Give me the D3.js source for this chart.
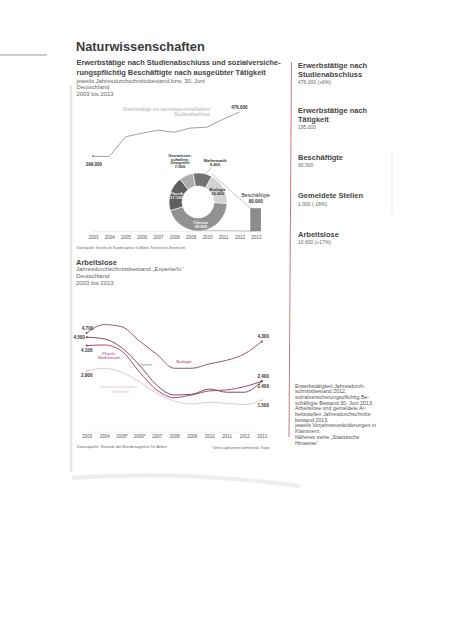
<!DOCTYPE html>
<html>
<head>
<meta charset="utf-8">
<script src="https://cdn.jsdelivr.net/npm/d3@7"></script>
<style>
  body { margin: 0; background: #fff; }
  svg { display: block; font-family: "Liberation Sans", Arial, sans-serif; }
</style>
</head>
<body>
<svg id="page" width="465" height="640"></svg>
<script>
// --- data -------------------------------------------------------------
const years = [2003, 2004, 2005, 2006, 2007, 2008, 2009, 2010, 2011, 2012, 2013];
const yearLabelsAl = ['2003', '2004', '2005*', '2006*', '2007', '2008', '2009', '2010', '2011', '2012', '2013'];

// Erwerbstätige mit naturwissenschaftlichem Studienabschluss (2003-2012)
const erwerbYears = [2003, 2004, 2005, 2006, 2007, 2008, 2009, 2010, 2011, 2012];
const erwerbValues = [299000, 298000, 377000, 391000, 403000, 395000, 412000, 415000, 447000, 476000];

// Beschäftigte 2013 nach Fach
const beschaeftigte = 90000;
const faecher = ['Mathematik', 'Biologie', 'Chemie', 'Physik', 'Geowissenschaften, Geografie'];
const faecherWerte = [9400, 16000, 39500, 17100, 7000];

// Arbeitslose
const alBiologie = [4700, 5100, 5000, 4330, 3690, 3020, 3020, 3230, 3400, 3700, 4300];
const alChemie   = [4500, 4420, 4000, 3180, 2220, 1750, 1780, 2030, 1880, 1880, 2400];
const alPhysik   = [4100, 4130, 3840, 2860, 1990, 1620, 1750, 1940, 1990, 2140, 2400];
const alGeo      = [2900, 3020, 2830, 2380, 1830, 1460, 1320, 1400, 1350, 1290, 1500];

// Kennzahlen rechts
const kennTitel = [['Erwerbstätige nach', 'Studienabschluss'], ['Erwerbstätige nach', 'Tätigkeit'],
  ['Beschäftigte'], ['Gemeldete Stellen'], ['Arbeitslose']];
const kennWerte = ['476.000 (+6%)', '195.000', '90.000', '1.000 (-18%)', '10.600 (+17%)'];

const fussnote = ['Erwerbstätigkeit Jahresdurch-', 'schnittsbestand 2012,', 'sozialversicherungspflichtig Be-',
  'schäftigte Bestand 30. Juni 2013,', 'Arbeitslose und gemeldete Ar-', 'beitsstellen Jahresdurchschnitts-',
  'bestand 2013,', 'jeweils Vorjahresveränderungen in', 'Klammern.', 'Näheres siehe „Statistische', 'Hinweise“'];

// --- setup ------------------------------------------------------------
const de = d3.formatLocale({ decimal: ',', thousands: '.', grouping: [3], currency: ['', ' €'] });
const fmt = de.format(',');

const svg = d3.select('#page');

// scan artefacts: page edge etc.
svg.append('line').attr('x1', 0).attr('x2', 47).attr('y1', 55).attr('y2', 55)
  .attr('stroke', '#9a9a9a').attr('stroke-width', 1);
svg.append('line').attr('x1', 71).attr('x2', 71).attr('y1', 85).attr('y2', 472)
  .attr('stroke', '#e6e6e6').attr('stroke-width', 2.5);
svg.append('line').attr('x1', 392).attr('x2', 392).attr('y1', 150).attr('y2', 213)
  .attr('stroke', '#ececec').attr('stroke-width', 1);
svg.append('path').attr('d', 'M72,478 Q180,470 300,486')
  .attr('fill', 'none').attr('stroke', '#eeeeee').attr('stroke-width', 4);

const text = (x, y, str, size, opts = {}) => svg.append('text')
  .attr('x', x).attr('y', y).text(str)
  .attr('font-size', size)
  .attr('font-weight', opts.bold ? 'bold' : null)
  .attr('fill', opts.fill || '#333')
  .attr('text-anchor', opts.anchor || 'start');

// --- headings ---------------------------------------------------------
text(76, 50.7, 'Naturwissenschaften', 12.8, { bold: true, fill: '#3a3a3a' });
text(76.5, 65.3, 'Erwerbstätige nach Studienabschluss und sozialversiche-', 7.4, { bold: true, fill: '#444' });
text(76.5, 75, 'rungspflichtig Beschäftigte nach ausgeübter Tätigkeit', 7.4, { bold: true, fill: '#444' });
text(76.5, 82.8, 'jeweils Jahresdurchschnittsbestand bzw. 30. Juni', 5.9, { fill: '#666' });
text(76.5, 89.4, 'Deutschland', 5.9, { fill: '#666' });
text(76.5, 95.8, '2003 bis 2013', 5.9, { fill: '#666' });

// --- top chart --------------------------------------------------------
const x1 = d3.scaleLinear().domain([2003, 2013]).range([93, 255.7]);
const y1 = d3.scaleLinear().domain([0, 476000]).range([231, 112]);

const ax1 = svg.append('g').attr('transform', 'translate(0,231)')
  .call(d3.axisBottom(x1).tickValues(years).tickFormat(d3.format('d')).tickSize(0).tickPadding(4.5));
ax1.select('.domain').attr('stroke', '#d8d8d8').attr('stroke-width', 0.5);
ax1.selectAll('text').attr('font-size', 4.5).attr('fill', '#555').attr('font-family', null);

svg.append('path')
  .datum(erwerbYears.map((yr, i) => [yr, erwerbValues[i]]))
  .attr('fill', 'none').attr('stroke', '#8a8a8a').attr('stroke-width', 0.8)
  .attr('d', d3.line().x(d => x1(d[0])).y(d => y1(d[1])));
svg.append('circle').attr('cx', x1(2003)).attr('cy', y1(erwerbValues[0])).attr('r', 0.9).attr('fill', '#777');

text(x1(2003) + 1, y1(erwerbValues[0]) + 10, fmt(erwerbValues[0]), 4.5, { bold: true, anchor: 'middle' });
text(x1(2012), y1(erwerbValues[9]) - 3, fmt(erwerbValues[9]), 4.5, { bold: true, anchor: 'middle' });
text(210, 110.5, 'Erwerbstätige mit naturwissenschaftlichem', 4.6, { fill: '#b0b0b0', anchor: 'end' });
text(210, 116.2, 'Studienabschluss', 4.6, { fill: '#b0b0b0', anchor: 'end' });

// bar
const barX = x1(2013);
svg.append('rect')
  .attr('x', barX - 5).attr('width', 10)
  .attr('y', y1(beschaeftigte)).attr('height', y1(0) - y1(beschaeftigte))
  .attr('fill', '#8c8c8c').attr('stroke', '#6a6a6a').attr('stroke-width', 0.4);
text(barX, 196.5, 'Beschäftigte', 5.2, { anchor: 'middle' });
text(barX, 203, fmt(beschaeftigte), 4.6, { bold: true, anchor: 'middle' });

// donut
const cx = 198, cy = 202, rOut = 29, rIn = 16;
const start = -0.17;
const pie = d3.pie().sort(null).startAngle(start).endAngle(start + 2 * Math.PI)(faecherWerte);
const arc = d3.arc().innerRadius(rIn).outerRadius(rOut);
const segColors = ['#727272', '#d2d2d2', '#929292', '#5e5e5e', '#adadad'];
const donut = svg.append('g').attr('transform', `translate(${cx},${cy})`);

const polar = (a, r) => [cx + r * Math.sin(a), cy - r * Math.cos(a)];
// connector lines to the bar
const pTop = polar(pie[0].endAngle - 0.05, rOut + 2.5);
const pBot = polar(Math.PI + 0.2, rOut);
svg.append('line').attr('x1', pTop[0]).attr('y1', pTop[1]).attr('x2', barX - 5).attr('y2', y1(beschaeftigte))
  .attr('stroke', '#8a8a8a').attr('stroke-width', 0.5);
svg.append('line').attr('x1', pBot[0]).attr('y1', pBot[1] - 0.5).attr('x2', barX - 5).attr('y2', y1(0))
  .attr('stroke', '#8a8a8a').attr('stroke-width', 0.5);

donut.selectAll('path').data(pie).join('path')
  .attr('d', arc).attr('fill', (d, i) => segColors[i])
  .attr('stroke', '#fff').attr('stroke-width', 0.6);

// inside labels
const inner = [1, 2, 3];
const innerFill = ['#333', '#f2f2f2', '#f2f2f2'];
const labelArc = d3.arc().innerRadius(22.5).outerRadius(22.5);
inner.forEach((k, j) => {
  const [lx, ly] = labelArc.centroid(pie[k]);
  text(cx + lx, cy + ly - 0.3, faecher[k], 4.2, { bold: true, anchor: 'middle', fill: innerFill[j] });
  text(cx + lx, cy + ly + 4, fmt(faecherWerte[k]), 4.2, { bold: true, anchor: 'middle', fill: innerFill[j] });
});
// outside labels
text(cx + 17, 161.8, faecher[0], 4.2, { bold: true, anchor: 'middle' });
text(cx + 17, 165.8, fmt(faecherWerte[0]), 4.2, { bold: true, anchor: 'middle' });
const pm = polar(0.25, rOut);
svg.append('line').attr('x1', cx + 14).attr('y1', 167.3).attr('x2', pm[0]).attr('y2', pm[1])
  .attr('stroke', '#666').attr('stroke-width', 0.4);
['Geowissen-', 'schaften,', 'Geografie', fmt(faecherWerte[4])].forEach((s, i) => {
  text(cx - 18, 157 + i * 3.6, s, 4.2, { bold: true, anchor: 'middle' });
});

text(77, 248.5, 'Datenquelle: Statistik der Bundesagentur für Arbeit, Statistisches Bundesamt', 3.2, { fill: '#666' });

// --- right column -----------------------------------------------------
svg.append('line').attr('x1', 291.5).attr('y1', 62).attr('x2', 289).attr('y2', 437)
  .attr('stroke', '#c47a84').attr('stroke-width', 1);
const kennY = [67.5, 112.5, 159.5, 198, 236.5];
kennTitel.forEach((lines, i) => {
  lines.forEach((s, j) => text(298, kennY[i] + j * 9, s, 7.5, { bold: true, fill: '#444' }));
  text(298, kennY[i] + lines.length * 9 - 1.5, kennWerte[i], 5, { fill: '#666' });
});
fussnote.forEach((s, i) => text(295, 387.5 + i * 5.7, s, 5.3, { fill: '#555' }));

// --- Arbeitslose ------------------------------------------------------
text(76, 264.8, 'Arbeitslose', 7.5, { bold: true, fill: '#444' });
text(76, 271.4, 'Jahresdurchschnittsbestand „Experte/in“', 6, { fill: '#666' });
text(76, 278, 'Deutschland', 6, { fill: '#666' });
text(76, 284.5, '2003 bis 2013', 6, { fill: '#666' });

const x2 = d3.scaleLinear().domain([2003, 2013]).range([86.7, 261.7]);
const y2 = d3.scaleLinear().domain([0, 5000]).range([431.7, 326.7]);

const ax2 = svg.append('g').attr('transform', 'translate(0,431.7)')
  .call(d3.axisBottom(x2).tickValues(years).tickFormat((d, i) => yearLabelsAl[i]).tickSize(0).tickPadding(3.5));
ax2.select('.domain').attr('stroke', '#dcdcdc').attr('stroke-width', 0.5);
ax2.selectAll('text').attr('font-size', 4.5).attr('fill', '#555').attr('font-family', null);

const series = [
  { name: 'Geo', values: alGeo, color: '#e6bcc9', start: 'below', end: ['below'] },
  { name: 'Physik', values: alPhysik, color: '#a3336a', start: 'below', end: [] },
  { name: 'Chemie', values: alChemie, color: '#6a3a4e', start: 'left', end: ['above', 'below'] },
  { name: 'Biologie', values: alBiologie, color: '#8f4256', start: 'above', end: ['above'] }
];
const line2 = d3.line().x((d, i) => x2(years[i])).y(d => y2(d)).curve(d3.curveMonotoneX);

const sg = svg.append('g').selectAll('g').data(series).join('g');
sg.append('path').attr('d', d => line2(d.values))
  .attr('fill', 'none').attr('stroke', d => d.color).attr('stroke-width', 0.9);
sg.append('circle').attr('cx', x2(2003)).attr('cy', d => y2(d.values[0])).attr('r', 1).attr('fill', d => d.color);
sg.append('circle').attr('cx', x2(2013)).attr('cy', d => y2(d.values[10])).attr('r', 1).attr('fill', d => d.color);

series.forEach(s => {
  const v0 = s.values[0], vx = s.values[10];
  if (s.start === 'above') text(x2(2003) + 0.8, y2(v0) - 3, fmt(v0), 4.6, { bold: true, anchor: 'middle' });
  if (s.start === 'below') text(x2(2003), y2(v0) + 6.5, fmt(v0), 4.6, { bold: true, anchor: 'middle' });
  if (s.start === 'left') text(x2(2003) - 1.8, y2(v0) + 1.6, fmt(v0), 4.6, { bold: true, anchor: 'end' });
  s.end.forEach(pos => {
    const dy = pos === 'above' ? -3.5 : 6.5;
    text(x2(2013) + 1.5, y2(vx) + dy, fmt(vx), 4.6, { bold: true, anchor: 'middle' });
  });
});

text(109, 354.6, 'Physik,', 4.3, { anchor: 'middle', fill: '#b23575' });
text(109, 358.9, 'Mathematik', 4.3, { anchor: 'middle', fill: '#b23575' });
text(145, 365.5, 'Chemie', 4.3, { anchor: 'middle', fill: '#9c8390' });
text(184, 363, 'Biologie', 4.3, { anchor: 'middle', fill: '#a8334f' });
text(118.5, 388, 'Geowissenschaften,', 4.2, { anchor: 'middle', fill: '#e6b9c8' });
text(120.5, 393, 'Geografie', 4.2, { anchor: 'middle', fill: '#e6b9c8' });

text(77, 448.3, 'Datenquelle: Statistik der Bundesagentur für Arbeit', 4, { fill: '#666' });
text(270, 448.6, '*ohne zugelassene kommunale Träger', 3.4, { fill: '#666', anchor: 'end' });
</script>
</body>
</html>
